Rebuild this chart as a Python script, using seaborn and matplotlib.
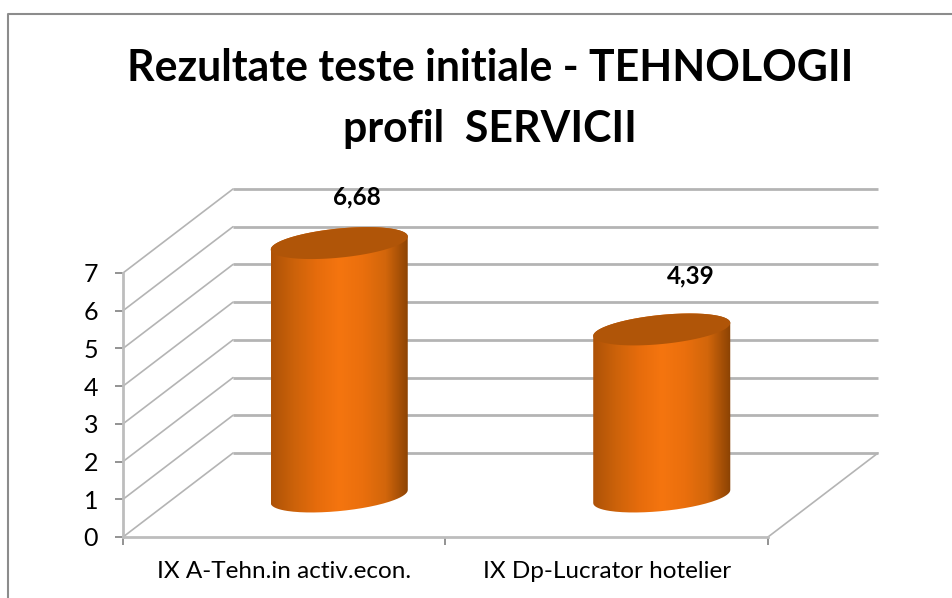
# Rezultate teste initiale: cilindri 3D disegnati sopra un barplot seaborn
import numpy as np
import matplotlib
matplotlib.use('Agg')
import matplotlib.pyplot as plt
from matplotlib.lines import Line2D
from matplotlib.patches import PathPatch, Polygon
from matplotlib.path import Path
from matplotlib.transforms import Affine2D, IdentityTransform
import seaborn as sns

categories = ['IX A-Tehn.in activ.econ.', 'IX Dp-Lucrator hotelier']
values = [6.68, 4.39]
y_ticks = [0, 1, 2, 3, 4, 5, 6, 7]
title = 'Rezultate teste initiale - TEHNOLOGII\nprofil  SERVICII'

W, H = 953, 598
DEPTH_X, DEPTH_Y = 110, 84      # spostamento della parete di fondo, in pixel
GRID = '#b4b4b4'

sns.set_theme(style='white')
plt.rcParams['font.family'] = ['Lato', 'DejaVu Sans']

fig = plt.figure(figsize=(W / 100, H / 100), dpi=100, facecolor='white')
ax = fig.add_axes([123 / W, 1 - 537 / H, 645 / W, 264 / H])
ax.patch.set_alpha(0)

sns.barplot(x=categories, y=values, width=0.425, ax=ax, color='#f5750f')
ax.set_xlim(-0.5, 1.5)
ax.set_ylim(0, 7)
sns.despine(ax=ax, top=True, right=True)
for side in ['left', 'bottom']:
    ax.spines[side].set_color('#bdbdbd')
    ax.spines[side].set_linewidth(2)

ax.set_yticks(y_ticks)
ax.set_xticks([0, 1], categories)
ax.set_xticks([-0.5, 0.5, 1.5], minor=True)
ax.tick_params(axis='y', which='major', length=6, width=1.2, color='#808080', pad=12,
               labelsize=18, labelcolor='black', left=True)
ax.tick_params(axis='x', which='major', length=0, pad=17, labelsize=17.5, labelcolor='black')
ax.tick_params(axis='x', which='minor', length=6, width=1.2, color='#808080', bottom=True)

fig.suptitle(title, x=490 / W, y=1 - 48 / H, va='top', fontsize=30.8, fontweight='bold',
             color='black', linespacing=1.65)

# griglia sulla parete di fondo e diagonali sulla parete sinistra
back = ax.transData + Affine2D().translate(DEPTH_X, DEPTH_Y)
ax.hlines(y_ticks, -0.5, 1.5, transform=back, colors=GRID, linewidth=2, clip_on=False, zorder=1)
for tick in y_ticks:
    x0, y0 = ax.transData.transform((-0.5, tick))
    ax.plot([x0, x0 + DEPTH_X], [y0, y0 + DEPTH_Y], transform=IdentityTransform(),
            color=GRID, linewidth=1.2, clip_on=False, zorder=1)
x1, y1 = ax.transData.transform((1.5, 0))
ax.plot([x1, x1 + DEPTH_X], [y1, y1 + DEPTH_Y], transform=IdentityTransform(),
        color=GRID, linewidth=1.2, clip_on=False, zorder=1)

# ogni barra diventa un cilindro a meta della profondita
shade = sns.blend_palette(['#ad5207', '#cc620a', '#e66c0c', '#f5750f', '#ea6f0d', '#d2660b', '#8a4204'],
                          as_cmap=True)
gradient = np.linspace(0, 1, 256).reshape(1, -1)
mid = ax.transData + Affine2D().translate(DEPTH_X / 2, DEPTH_Y / 2)
tilt, minor = 6.5, 14.6


def ellipse(cx, cy, a, t):
    return np.column_stack([cx + a * np.cos(t), cy + tilt * np.cos(t) + minor * np.sin(t)])


for bar in list(ax.patches):
    x_left, width, height = bar.get_x(), bar.get_width(), bar.get_height()
    bar.set_visible(False)
    xa, ya = mid.transform((x_left, 0))
    xb, yb = mid.transform((x_left + width, height))
    cx, a = (xa + xb) / 2, (xb - xa) / 2

    lower = ellipse(cx, ya - 1.5, a, np.linspace(np.pi, 2 * np.pi, 80))
    upper = ellipse(cx, yb, a, np.linspace(0, np.pi, 80))
    outline = np.vstack([lower, upper])
    clip = PathPatch(Path(np.vstack([outline, outline[:1]])), transform=IdentityTransform())

    im = ax.imshow(gradient, cmap=shade, aspect='auto', transform=mid, zorder=3,
                   extent=(x_left, x_left + width, -1, height + 1))
    im.set_clip_box(fig.bbox)
    im.set_clip_path(clip)
    ax.add_patch(Polygon(ellipse(cx, yb, a, np.linspace(0, 2 * np.pi, 160)), closed=True,
                         transform=IdentityTransform(), facecolor='#b05508',
                         edgecolor='none', clip_on=False, zorder=4))

ax.set_xlim(-0.5, 1.5)
ax.set_ylim(0, 7)

# etichette dei valori, spostate a mano come nel grafico originale
label_offsets = [(73, 88), (84, 96)]
for i, (val, off) in enumerate(zip(values, label_offsets)):
    ax.annotate(f'{val:.2f}'.replace('.', ','), (i, val), xytext=off, textcoords='offset pixels',
                ha='center', va='center', fontsize=17.5, fontweight='bold', color='black',
                annotation_clip=False, zorder=5)

# cornice del grafico
fig.add_artist(Line2D([8.5 / W, 8.5 / W, 1], [0, 1 - 13.5 / H, 1 - 13.5 / H], color='#8c8c8c', linewidth=1.5))

fig.savefig('out.png', dpi=100)
